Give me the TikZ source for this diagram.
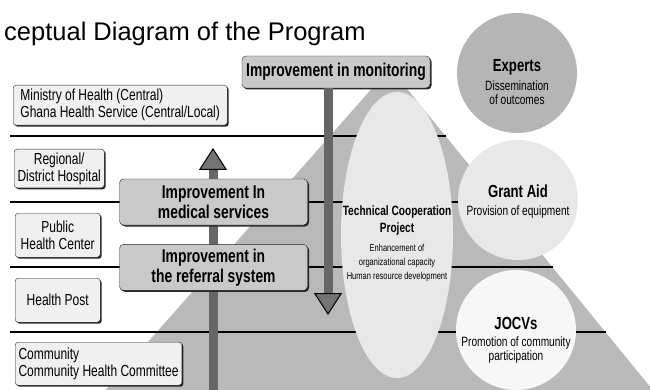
\documentclass[tikz,border=0pt]{standalone}
\usepackage{fontspec}
\setmainfont{Liberation Sans}
\newfontfamily\narrowfont[FakeStretch=0.75]{Liberation Sans}
\usetikzlibrary{positioning, shapes.geometric, arrows.meta, shadows}

\tikzset{
    levelbox/.style={draw=black!85, fill=gray!12, rounded corners=3pt,
        font=\narrowfont\fontsize{16}{17}\selectfont,
        drop shadow={shadow xshift=1.5pt, shadow yshift=-1.5pt,
            fill=black!85, opacity=1}},
    aimbox/.style={draw=black!85, fill=gray!42, rounded corners=4pt,
        font=\narrowfont\bfseries\fontsize{18.5}{20}\selectfont,
        align=center, minimum width=188pt,
        drop shadow={shadow xshift=1.5pt, shadow yshift=-1.5pt,
            fill=black!85, opacity=1}},
    levelline/.style={line width=1.6pt, draw=black},
    flowarrow/.style={line width=9pt, draw=black!60,
        -{Triangle[width=28pt, length=22pt, line width=1pt,
            color=black, fill=black!55]}},
    bubble/.style={circle, draw=none, minimum size=120pt, inner sep=0pt},
    bubbletitle/.style={font=\narrowfont\bfseries\fontsize{17.5}{19}\selectfont,
        inner sep=0pt},
    bubblenote/.style={font=\narrowfont\fontsize{13.5}{14}\selectfont,
        align=center, inner sep=0pt}
}

\begin{document}
\begin{tikzpicture}[x=1pt, y=-1pt]
        \clip (0,0) rectangle (650,390);

        % Title
        \node[anchor=base west, inner sep=0pt,
              font=\fontsize{25.5}{30}\selectfont] (title) at (4,41)
              {ceptual Diagram of the Program};

        % Pyramid and level separators
        \fill[gray!55] (390,68) -- (102,394) -- (656,394) -- cycle;
        \foreach \y in {136,202,267,332}
            \draw[levelline] (10,\y) -- ({390+0.818*(\y-68)},\y);

        % Levels of the health system
        \node[levelbox, minimum width=214pt, minimum height=40pt,
              align=left, anchor=north west] (ministry) at (13,85)
              {Ministry of Health (Central)\\Ghana Health Service (Central/Local)};
        \node[levelbox, minimum width=86pt, minimum height=38pt,
              align=center, anchor=north west] (hospital) at (14,149)
              {Regional/\\District Hospital};
        \node[levelbox, minimum width=85pt, minimum height=44pt,
              align=center, anchor=north west] (healthcenter) at (15,213)
              {Public\\Health Center};
        \node[levelbox, minimum width=85pt, minimum height=44pt,
              anchor=north west] (post) at (15,278) {Health Post};
        \node[levelbox, minimum width=163pt, minimum height=43pt,
              align=left, anchor=north west] (community) at (15,342)
              {Community\\Community Health Committee};

        % Monitoring and the two arrows
        \node[aimbox, minimum height=32pt] (monitoring) at (336,72)
              {Improvement in monitoring};
        \coordinate (upfoot) at (213,394);
        \coordinate (uptip) at (213,148);
        \coordinate (downtip) at (328,315);
        \draw[flowarrow] (upfoot) -- (uptip);
        \draw[flowarrow] (downtip |- monitoring.south) -- (downtip);

        % Improvements
        \node[aimbox, minimum height=46pt] (medical) at (213.5,202)
              {Improvement In\\medical services};
        \node[aimbox, minimum height=46pt,
              below=19pt of medical] (referral)
              {Improvement in\\the referral system};

        % Technical cooperation project
        \node[ellipse, fill=gray!18, minimum width=112pt,
              minimum height=286pt] (tcp) at (397,235) {};
        \node[font=\narrowfont\bfseries\fontsize{13.5}{17}\selectfont,
              align=center, inner sep=0pt] (tcptitle) at (397,221)
              {Technical Cooperation\\Project};
        \node[font=\narrowfont\fontsize{10}{14}\selectfont,
              align=center, inner sep=0pt] (tcpnote) at (397,263)
              {Enhancement of\\organizational capacity\\Human resource development};

        % Other schemes
        \node[bubble, fill=gray!58] (experts) at (517,73) {};
        \node[bubbletitle] (expertstitle) at (517,67) {Experts};
        \node[bubblenote] (expertsnote) at (517,93) {Dissemination\\of outcomes};

        \node[bubble, fill=gray!18] (grant) at (518,200) {};
        \node[bubbletitle] (granttitle) at (518,191) {Grant Aid};
        \node[bubblenote] (grantnote) at (518,212) {Provision of equipment};

        \node[bubble, fill=gray!6] (jocv) at (516,330) {};
        \node[bubbletitle] (jocvtitle) at (516,323) {JOCVs};
        \node[bubblenote] (jocvnote) at (516,350)
              {Promotion of community\\participation};
\end{tikzpicture}
\end{document}
